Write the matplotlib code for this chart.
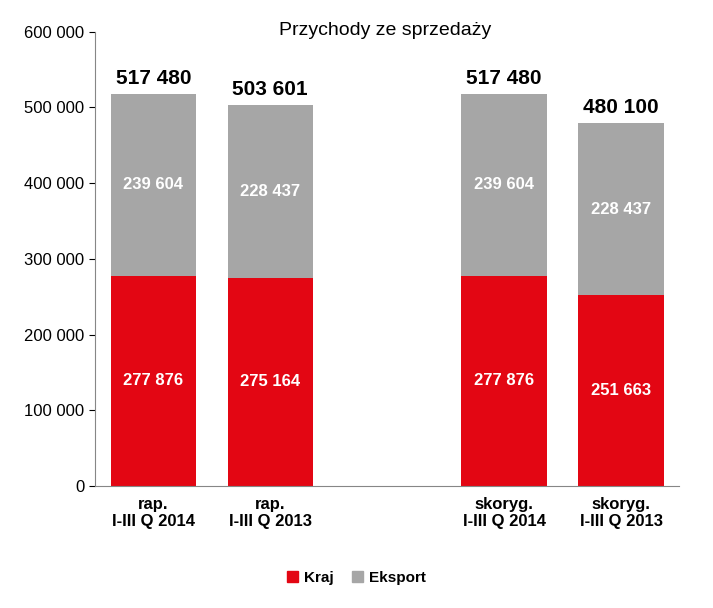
import numpy as np
import matplotlib.pyplot as plt

plt.rcParams["font.family"] = "Liberation Sans"

categories = ["rap.\nI-III Q 2014", "rap.\nI-III Q 2013", "", "skoryg.\nI-III Q 2014", "skoryg.\nI-III Q 2013"]
kraj = [277876, 275164, 0, 277876, 251663]
eksport = [239604, 228437, 0, 239604, 228437]
totals = [517480, 503601, 0, 517480, 480100]

RED = "#E30613"
GREY = "#A6A6A6"


def fmt(v):
    return f"{v:,}".replace(",", " ")


fig = plt.figure(figsize=(7.13, 6.08), dpi=100)
ax = fig.add_axes([0.133, 0.2007, 0.82, 0.747])

x = np.arange(len(categories))
ax.bar(x, kraj, width=0.73, color=RED)
ax.bar(x, eksport, bottom=kraj, width=0.73, color=GREY)

for i in range(len(categories)):
    if totals[i] == 0:
        continue
    ax.text(x[i], kraj[i] / 2, fmt(kraj[i]), ha="center", va="center",
            color="white", fontsize=12, fontweight="bold")
    ax.text(x[i], kraj[i] + eksport[i] / 2, fmt(eksport[i]), ha="center", va="center",
            color="white", fontsize=12, fontweight="bold")
    ax.text(x[i], totals[i] + 8000, fmt(totals[i]), ha="center", va="bottom",
            color="black", fontsize=15, fontweight="bold")

ax.set_xlim(-0.5, len(categories) - 0.5)
ax.set_ylim(0, 600000)
ax.set_yticks(np.arange(0, 600001, 100000))
ax.set_yticklabels([fmt(v) for v in range(0, 600001, 100000)], fontsize=12)
ax.set_xticks(x)
ax.set_xticklabels(categories, fontsize=12, fontweight="bold")
ax.tick_params(axis="x", length=0, pad=8)
ax.tick_params(axis="y", direction="out", length=4)
ax.spines["top"].set_visible(False)
ax.spines["right"].set_visible(False)
for s in ("left", "bottom"):
    ax.spines[s].set_color("#868686")

fig.text(0.54, 0.95, "Przychody ze sprzedaży", ha="center", va="center", fontsize=14)

handles = [plt.Rectangle((0, 0), 1, 1, color=RED), plt.Rectangle((0, 0), 1, 1, color=GREY)]
fig.legend(handles, ["Kraj", "Eksport"], loc="center", bbox_to_anchor=(0.5, 0.05),
           ncol=2, frameon=False, prop={"size": 11, "weight": "bold"},
           handlelength=0.7, handleheight=0.7, columnspacing=1.2, handletextpad=0.4)

fig.savefig("out.png", dpi=100)
